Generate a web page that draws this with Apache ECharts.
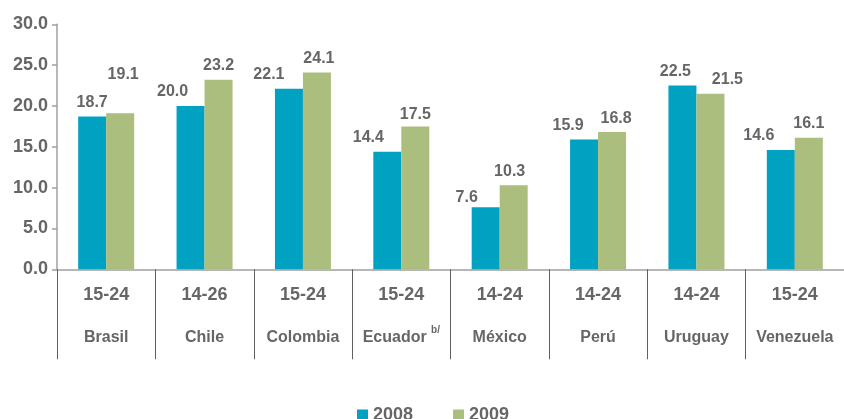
<!DOCTYPE html>
<html>
<head>
<meta charset="utf-8">
<script src="https://cdn.jsdelivr.net/npm/echarts@6/dist/echarts.min.js"></script>
<style>
  html, body { margin: 0; padding: 0; background: #fff; }
  #main { width: 844px; height: 419px; }
</style>
</head>
<body>
<div id="main"></div>
<script>
// datos
var ages = ['15-24', '14-26', '15-24', '15-24', '14-24', '14-24', '14-24', '15-24'];
var countries = ['Brasil', 'Chile', 'Colombia', 'Ecuador', 'México', 'Perú', 'Uruguay', 'Venezuela'];
var values2008 = [18.7, 20.0, 22.1, 14.4, 7.6, 15.9, 22.5, 14.6];
var values2009 = [19.1, 23.2, 24.1, 17.5, 10.3, 16.8, 21.5, 16.1];

// desplazamiento de etiquetas como en el original
var shift2008 = [[0, 0], [-18, 0], [-20, 0], [-19, 0], [-19, 4], [-16, 0], [-7, 0], [-22, 0]];
var shift2009 = [[3, -25], [0, 0], [2, 0], [0, 2], [-4, 0], [4, 0], [17, 0], [0, 0]];

var FONT = '"Liberation Sans", Arial, sans-serif';
var GREY = '#666666';

function withShift(vals, shifts) {
    return vals.map(function (v, i) {
        return { value: v, label: { offset: shifts[i] } };
    });
}

var chart = echarts.init(document.getElementById('main'));
var option = {
    animation: false,
    grid: { left: 57, top: 24.3, width: 792, bottom: 149.7, containLabel: false },
    legend: {
        left: 352,
        top: 401,
        itemWidth: 11,
        itemHeight: 11,
        itemGap: 40,
        icon: 'rect',
        textStyle: { color: GREY, fontSize: 18, fontWeight: 'bold', fontFamily: FONT },
        data: ['2008', '2009']
    },
    xAxis: {
        type: 'category',
        data: countries,
        axisLine: { lineStyle: { color: '#a0a0a0', width: 1.5 } },
        axisTick: { show: true, interval: 0, length: 90, lineStyle: { color: '#606060', width: 1 } },
        axisLabel: {
            interval: 0,
            margin: 4,
            formatter: function (val, idx) {
                var name = val === 'Ecuador' ? '{b|Ecuador }{s|b/}' : '{b|' + val + '}';
                return '{a|' + ages[idx] + '}\n' + name;
            },
            rich: {
                a: { fontSize: 18, fontWeight: 'bold', color: GREY, fontFamily: FONT, lineHeight: 43 },
                b: { fontSize: 16, fontWeight: 'bold', color: GREY, fontFamily: FONT, lineHeight: 43 },
                s: { fontSize: 10, fontWeight: 'bold', color: GREY, fontFamily: FONT, lineHeight: 14, padding: [0, 0, 15, 0] }
            }
        }
    },
    yAxis: {
        type: 'value',
        min: 0,
        max: 30,
        interval: 5,
        splitLine: { show: false },
        axisLine: { show: true, lineStyle: { color: '#a0a0a0', width: 1.5 } },
        axisTick: { show: true, length: 5, lineStyle: { color: '#a0a0a0', width: 1.5 } },
        axisLabel: {
            margin: 9,
            color: GREY,
            fontSize: 18,
            fontWeight: 'bold',
            fontFamily: FONT,
            formatter: function (v) { return v.toFixed(1); }
        }
    },
    series: [
        {
            name: '2008',
            type: 'bar',
            barWidth: 28,
            barGap: '0%',
            itemStyle: { color: '#00a1c1' },
            label: {
                show: true, position: 'top', distance: 6,
                color: GREY, fontSize: 16, fontWeight: 'bold', fontFamily: FONT,
                formatter: function (p) { return p.value.toFixed(1); }
            },
            data: withShift(values2008, shift2008)
        },
        {
            name: '2009',
            type: 'bar',
            barWidth: 28,
            barGap: '0%',
            itemStyle: { color: '#abbe7e' },
            label: {
                show: true, position: 'top', distance: 6,
                color: GREY, fontSize: 16, fontWeight: 'bold', fontFamily: FONT,
                formatter: function (p) { return p.value.toFixed(1); }
            },
            data: withShift(values2009, shift2009)
        }
    ]
};
chart.setOption(option);
</script>
</body>
</html>
